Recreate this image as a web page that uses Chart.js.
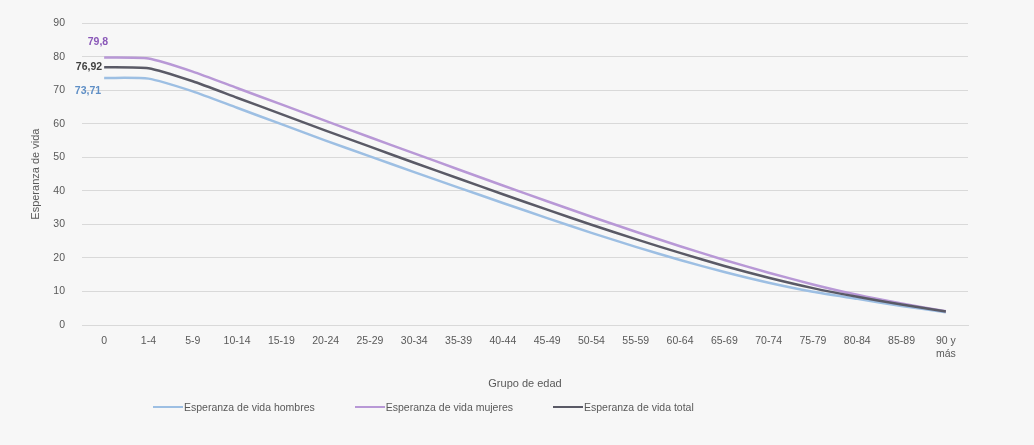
<!DOCTYPE html>
<html lang="es">
<head>
<meta charset="utf-8">
<title>Esperanza de vida por grupo de edad</title>
<script src="https://cdn.jsdelivr.net/npm/chart.js@4/dist/chart.umd.min.js"></script>
<style>
  html, body { margin: 0; padding: 0; background: #f7f7f7; }
  #wrap { position: relative; width: 1034px; height: 445px; }
  #legend {
    position: absolute; left: 153px; top: 401px;
    display: flex; gap: 40px;
    font: 10.5px "Liberation Sans", Arial, sans-serif; color: #595959;
  }
  #legend span { display: flex; align-items: center; }
  #legend i { display: inline-block; width: 30px; height: 2px; margin-right: 1px; }
</style>
</head>
<body>
<div id="wrap">
  <canvas id="chart" width="1034" height="445"></canvas>
  <div id="legend"></div>
</div>
<script>
const ageGroups = [
  "0", "1-4", "5-9", "10-14", "15-19", "20-24", "25-29", "30-34", "35-39", "40-44",
  "45-49", "50-54", "55-59", "60-64", "65-69", "70-74", "75-79", "80-84", "85-89", ["90 y", "más"]
];

const hombres = [73.71, 73.5, 69.7, 64.8, 59.9, 55.0, 50.3, 45.6, 41.0, 36.4,
                 31.9, 27.5, 23.3, 19.4, 15.8, 12.6, 9.9, 7.8, 5.7, 3.8];
const mujeres = [79.8, 79.5, 75.6, 70.7, 65.8, 60.9, 56.0, 51.2, 46.4, 41.6,
                 36.9, 32.3, 27.8, 23.5, 19.4, 15.6, 12.1, 9.0, 6.4, 4.1];
const total = [76.92, 76.6, 72.7, 67.8, 62.9, 58.0, 53.2, 48.4, 43.7, 39.0,
               34.4, 29.9, 25.6, 21.5, 17.6, 14.1, 11.0, 8.4, 6.1, 4.0];

const seriesNames = ["Esperanza de vida hombres", "Esperanza de vida mujeres", "Esperanza de vida total"];
const lineColors = ["#9dbfe3", "#b898d6", "#5a5a66"];
const labelColors = ["#5f8fc6", "#8a58b8", "#3f3f3f"];

const FONT = "'Liberation Sans', Arial, sans-serif";

// first-point value labels, Excel style with decimal comma
const firstPointLabels = {
  id: "firstPointLabels",
  afterDatasetsDraw(chart) {
    const ctx = chart.ctx;
    const offsets = [
      { dx: -3, dy: 13 },   // hombres: below-left
      { dx: 4, dy: -15 },   // mujeres: above
      { dx: -2, dy: 0 },    // total: left
    ];
    ctx.save();
    ctx.font = "bold 10.5px " + FONT;
    ctx.textBaseline = "middle";
    ctx.textAlign = "right";
    chart.data.datasets.forEach((ds, i) => {
      const pt = chart.getDatasetMeta(i).data[0];
      const o = offsets[i];
      ctx.fillStyle = labelColors[i];
      ctx.fillText(String(ds.data[0]).replace(".", ","), pt.x + o.dx, pt.y + o.dy);
    });
    ctx.restore();
  },
};

const bg = {
  id: "bg",
  beforeDraw(chart) {
    const ctx = chart.ctx;
    ctx.save();
    ctx.fillStyle = "#f7f7f7";
    ctx.fillRect(0, 0, chart.width, chart.height);
    ctx.restore();
  },
};

const chart = new Chart(document.getElementById("chart"), {
  type: "line",
  data: {
    labels: ageGroups,
    datasets: [hombres, mujeres, total].map((d, i) => ({
      label: seriesNames[i],
      data: d,
      borderColor: lineColors[i],
      borderWidth: 2.5,
      pointRadius: 0,
      tension: 0.2,
      fill: false,
      order: 2 - i,
    })),
  },
  options: {
    responsive: false,
    animation: false,
    layout: { padding: { left: 29, right: 66, top: 23, bottom: 50 } },
    plugins: {
      legend: { display: false },
      tooltip: { enabled: false },
    },
    scales: {
      x: {
        offset: true,
        grid: { display: false, drawTicks: false },
        border: { color: "#d9d9d9", width: 1 },
        ticks: {
          color: "#595959",
          font: { family: FONT, size: 10.5 },
          padding: 10,
          maxRotation: 0,
          autoSkip: false,
        },
        title: {
          display: true,
          text: "Grupo de edad",
          color: "#595959",
          font: { family: FONT, size: 11 },
          padding: { top: 4, bottom: 4 },
        },
        afterFit(scale) { scale.height = 70; },
      },
      y: {
        min: 0,
        max: 90,
        grid: { color: "#d9d9d9", drawTicks: false },
        border: { display: false },
        ticks: {
          stepSize: 10,
          color: "#595959",
          font: { family: FONT, size: 10.5 },
          padding: 17,
        },
        title: {
          display: true,
          text: "Esperanza de vida",
          color: "#595959",
          font: { family: FONT, size: 11 },
          padding: 0,
        },
        afterFit(scale) { scale.width = 53; },
      },
    },
  },
  plugins: [bg, firstPointLabels],
});

// legend rendered as HTML below the chart
const legend = document.getElementById("legend");
seriesNames.forEach((name, i) => {
  const item = document.createElement("span");
  const swatch = document.createElement("i");
  swatch.style.background = lineColors[i];
  item.appendChild(swatch);
  item.appendChild(document.createTextNode(name));
  legend.appendChild(item);
});
</script>
</body>
</html>
